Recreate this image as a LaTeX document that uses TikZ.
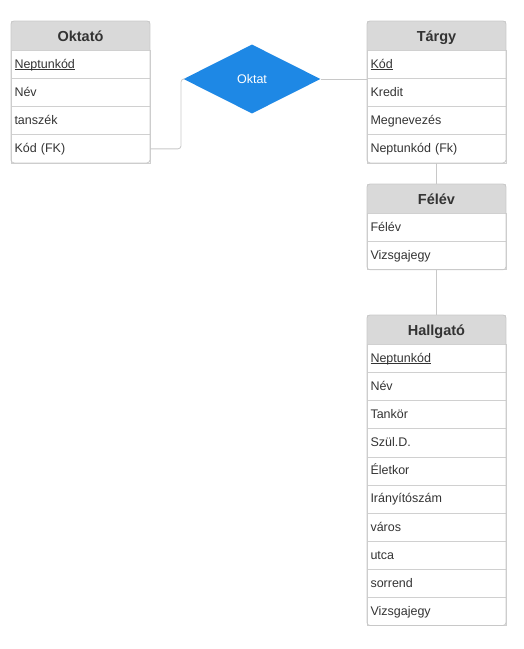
\documentclass[tikz,border=0pt]{standalone}
\usepackage{fontspec}
\setmainfont{Liberation Sans}
\usetikzlibrary{positioning,fit,shapes.geometric}

\definecolor{tblline}{HTML}{C8C8C8}
\definecolor{tblhead}{HTML}{D9D9D9}
\definecolor{tbltext}{HTML}{333333}
\definecolor{relblue}{HTML}{1E88E5}

\newcommand{\pkey}[1]{\setbox0\hbox{#1}\rlap{\rule[-1.6pt]{\wd0}{0.7pt}}\box0}

\tikzset{
  head/.style={fill=tblhead, minimum width=139pt, minimum height=29.5pt, inner sep=0pt, outer sep=0pt,
    text height=12pt, text depth=0pt, font=\fontsize{14.5}{16}\selectfont\bfseries, text=tbltext},
  attr/.style={draw=tblline!85, line width=0.8pt, minimum width=139pt, minimum height=28.1pt,
    inner xsep=3.5pt, inner ysep=0pt, outer sep=0pt, text width=132pt, align=left,
    text height=9pt, text depth=1.2pt, font=\fontsize{12.5}{14}\selectfont, text=tbltext},
  frame/.style={draw=tblline, rounded corners=3pt, inner sep=0pt, line width=0.8pt},
  rel/.style={diamond, fill=relblue, minimum width=137pt, minimum height=69pt, inner sep=0pt,
    text=white, font=\fontsize{12.5}{14}\selectfont},
  link/.style={draw=tblline, line width=0.8pt, rounded corners=3pt}
}

\begin{document}
\begin{tikzpicture}[node distance=0pt]
    \useasboundingbox (0,0) rectangle (523pt,-649pt);

    % Oktato
    \node (O0) [head, anchor=north west] at (11pt,-21pt) {Oktató};
    \node (O1) [attr, below=of O0] {\pkey{Neptunkód}};
    \node (O2) [attr, below=of O1] {Név};
    \node (O3) [attr, below=of O2] {tanszék};
    \node (O4) [attr, below=of O3] {Kód (FK)};
    \node (O) [frame, fit=(O0)(O4)] {};

    % Targy
    \node (T0) [head, anchor=north west] at (367pt,-21pt) {Tárgy};
    \node (T1) [attr, below=of T0] {\pkey{Kód}};
    \node (T2) [attr, below=of T1] {Kredit};
    \node (T3) [attr, below=of T2] {Megnevezés};
    \node (T4) [attr, below=of T3] {Neptunkód (Fk)};
    \node (T) [frame, fit=(T0)(T4)] {};

    % Felev
    \node (F0) [head, anchor=north west] at (367pt,-184pt) {Félév};
    \node (F1) [attr, below=of F0] {Félév};
    \node (F2) [attr, below=of F1] {Vizsgajegy};
    \node (F) [frame, fit=(F0)(F2)] {};

    % Hallgato
    \node (H0) [head, anchor=north west] at (367pt,-315pt) {Hallgató};
    \node (H1) [attr, below=of H0] {\pkey{Neptunkód}};
    \node (H2) [attr, below=of H1] {Név};
    \node (H3) [attr, below=of H2] {Tankör};
    \node (H4) [attr, below=of H3] {Szül.D.};
    \node (H5) [attr, below=of H4] {Életkor};
    \node (H6) [attr, below=of H5] {Irányítószám};
    \node (H7) [attr, below=of H6] {város};
    \node (H8) [attr, below=of H7] {utca};
    \node (H9) [attr, below=of H8] {sorrend};
    \node (H10) [attr, below=of H9] {Vizsgajegy};
    \node (H) [frame, fit=(H0)(H10)] {};

    % Relationship
    \node (R) [rel] at (252pt,-79pt) {Oktat};

    % Draw links
    \draw[link] (O4.east) -- ++(31pt,0) |- (R.west);
    \draw[link] (R.east) -- (R.east -| T.west);
    \draw[link] (T.south) -- (F.north);
    \draw[link] (F.south) -- (H.north);
\end{tikzpicture}
\end{document}
